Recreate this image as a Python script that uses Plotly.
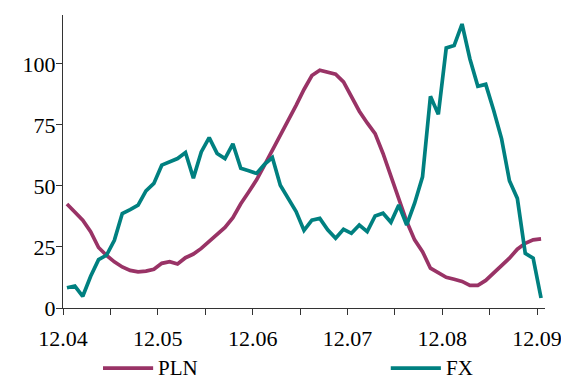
import plotly.graph_objects as go

# monthly observations, Dec 2004 .. Dec 2009
pln = [42.6, 39.3, 36.0, 31.3, 24.8, 21.6, 18.9, 16.8, 15.4, 14.8, 15.1, 15.9,
       18.3, 19.0, 18.0, 20.6, 22.1, 24.4, 27.3, 29.8, 33.0, 37.0, 42.7, 47.5,
       52.5, 58.5, 64.5, 70.5, 76.8, 83.0, 89.5, 95.2, 97.4, 96.7, 95.8, 92.6,
       86.6, 80.6, 75.8, 71.4, 63.3, 53.7, 44.2, 35.4, 27.9, 23.1, 16.3, 14.3,
       12.6, 11.8, 10.9, 9.3, 9.3, 11.3, 14.3, 16.9, 20.4, 24.1, 26.5, 27.9, 28.3]
fx = [8.3, 9.0, 4.8, 13.0, 19.8, 21.6, 27.7, 38.7, 40.3, 42.1, 48.0, 51.0,
      58.5, 60.0, 61.2, 63.7, 53.2, 63.9, 69.8, 63.3, 61.2, 67.2, 57.2, 56.2,
      55.1, 58.8, 61.6, 50.3, 44.9, 39.5, 31.8, 36.0, 36.7, 32.0, 28.6, 32.2,
      30.6, 34.0, 31.3, 37.7, 38.8, 35.1, 42.2, 34.0, 42.9, 53.7, 86.7, 79.3,
      106.5, 107.5, 116.3, 102.0, 90.8, 91.6, 81.0, 69.4, 52.1, 44.9, 22.4, 20.4, 4.1]
tick_labels = ["12.04", "", "12.05", "", "12.06", "", "12.07", "", "12.08", "", "12.09"]
series = [("PLN", pln, "#993366"), ("FX", fx, "#008080")]

months = [i + 0.5 for i in range(len(pln))]
font = dict(family="Liberation Serif, Times New Roman, serif", size=22, color="black")

fig = go.Figure()
for name, vals, col in series:
    fig.add_trace(go.Scatter(x=months, y=vals, mode="lines", name=name,
                             line=dict(color=col, width=3.7)))

# legend drawn by hand below the axis (plotly's own sample line is too short)
legend_x = [0.083, 0.680]
legend_y = -0.205
for (name, vals, col), lx in zip(series, legend_x):
    fig.add_shape(type="line", xref="paper", yref="paper", x0=lx, x1=lx + 0.104,
                  y0=legend_y, y1=legend_y, line=dict(color=col, width=3.7))
    fig.add_annotation(xref="paper", yref="paper", x=lx + 0.112, y=legend_y,
                       text=name, showarrow=False, xanchor="left", yanchor="middle",
                       borderpad=0, font=dict(font, size=21))

# page body has an 8px margin, so the figure is 8px smaller than the window
fig.update_layout(
    width=561, height=372,
    margin=dict(l=55, r=24, t=7, b=72),
    paper_bgcolor="white", plot_bgcolor="white",
    font=font,
    showlegend=False,
)
fig.update_xaxes(range=[0, 61], tickvals=list(range(0, 61, 6)), ticktext=tick_labels,
                 showgrid=False, zeroline=False, showline=True, linecolor="#333",
                 linewidth=1, ticks="outside", ticklen=6, tickcolor="#333",
                 ticklabelstandoff=5, automargin=False)
fig.update_yaxes(range=[0, 120], tickvals=[0, 25, 50, 75, 100],
                 showgrid=False, zeroline=False, showline=True, linecolor="#333",
                 linewidth=1, ticks="outside", ticklen=6, tickcolor="#333",
                 ticklabelstandoff=-4, automargin=False)

fig.write_html("out.html")
